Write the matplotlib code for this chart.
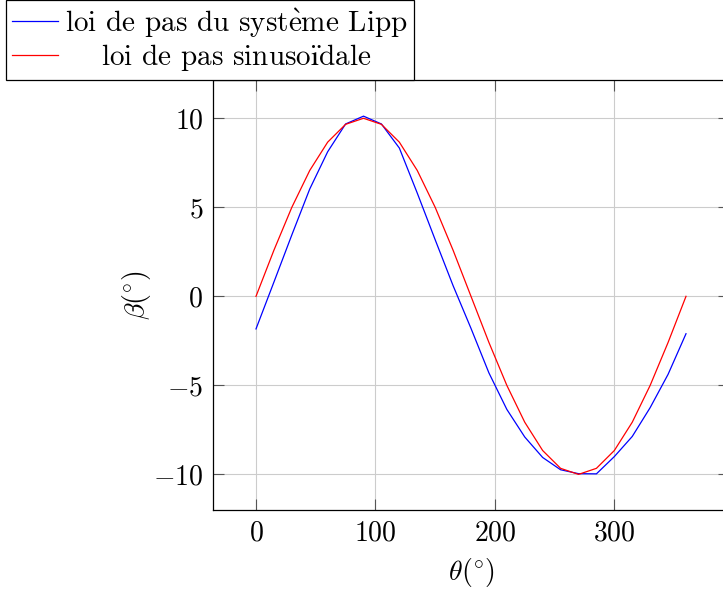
import matplotlib
matplotlib.use("Agg")
import matplotlib.pyplot as plt

plt.rcParams['font.family'] = 'serif'
plt.rcParams['font.serif'] = ['cmr10', 'DejaVu Serif']
plt.rcParams['mathtext.fontset'] = 'cm'
plt.rcParams['axes.formatter.use_mathtext'] = True

# angle theta (deg), pas de 15 deg
theta = [0, 15, 30, 45, 60, 75, 90, 105, 120, 135, 150, 165, 180,
         195, 210, 225, 240, 255, 270, 285, 300, 315, 330, 345, 360]

# loi de pas du systeme Lipp
beta_lipp = [-1.83, 0.8, 3.45, 6.03, 8.12, 9.68, 10.12, 9.68, 8.33, 5.8, 3.18, 0.6, -1.8,
             -4.3, -6.35, -7.9, -9.05, -9.74, -9.96, -9.97, -9.0, -7.87, -6.25, -4.38, -2.1]

# loi de pas sinusoidale
beta_sin = [0, 2.59, 5.0, 7.07, 8.66, 9.66, 10.0, 9.66, 8.66, 7.07, 5.0, 2.59, 0,
            -2.59, -5.0, -7.07, -8.66, -9.66, -10.0, -9.66, -8.66, -7.07, -5.0, -2.59, 0]

label_lipp = r'loi de pas du syst$\mathrm{\grave{e}}$me Lipp'
label_sin = r'loi de pas sinuso$\mathrm{\ddot{ı}}$dale'

fig = plt.figure(figsize=(7.23, 5.97), dpi=100)
ax = fig.add_axes([213 / 723, 1 - 510 / 597, (729 - 213) / 723, (510 - 80) / 597])

ax.plot(theta, beta_lipp, color='b', lw=0.9, label=label_lipp)
ax.plot(theta, beta_sin, color='r', lw=0.9, label=label_sin)

ax.set_xlim(-36, 396)
ax.set_ylim(-12.0, 12.15)
ax.set_xticks([0, 100, 200, 300])
ax.set_yticks([-10, -5, 0, 5, 10])
ax.grid(True, color='#cccccc', lw=0.8)
ax.set_axisbelow(True)
ax.tick_params(direction='in', length=8, width=0.8, color='#555555',
               top=True, right=True, labelsize=20, pad=7)
for s in ax.spines.values():
    s.set_linewidth(0.9)
    s.set_color('black')

ax.set_xlabel(r'$\theta(^{\circ})$', fontsize=20, labelpad=7)
ax.set_ylabel(r'$\beta(^{\circ})$', fontsize=20, labelpad=0)

leg = fig.legend(loc='upper left', bbox_to_anchor=(6 / 723, 1.0), borderaxespad=0,
                 fontsize=21, fancybox=False, framealpha=1, edgecolor='black',
                 handlelength=1.55, handletextpad=0.25, labelspacing=0.1, borderpad=0.22)
leg.get_frame().set_linewidth(0.9)

# centrer la deuxieme ligne de la legende comme pgfplots
fig.canvas.draw()
w0 = leg.texts[0].get_window_extent().width
w1 = leg.texts[1].get_window_extent().width
leg.texts[1].set_x((w0 - w1) / 2)

fig.savefig('out.png', dpi=100)
